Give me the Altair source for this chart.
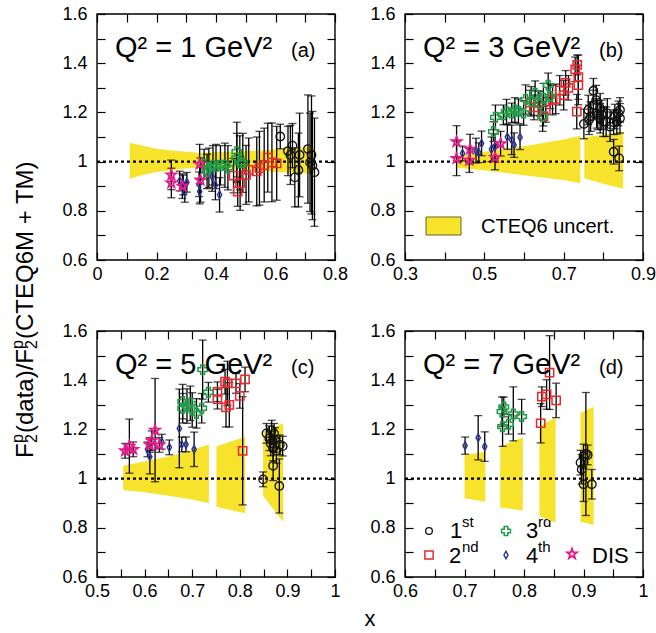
import altair as alt
import pandas as pd

FONT = "Liberation Sans"
FIG_W, FIG_H = 656, 633
Y_DOMAIN = [0.6, 1.6]
Y_TICKS = [0.6, 0.7, 0.8, 0.9, 1.0, 1.1, 1.2, 1.3, 1.4, 1.5, 1.6]

BAND_COLOR = "#f7e22c"
COL_1ST = "#111111"
COL_2ND = "#e8282c"
COL_3RD = "#1f9e4a"
COL_4TH = "#2a3596"
COL_DIS = "#e8198b"
DIAMOND = "M0,-1L0.55,0L0,1L-0.55,0Z"
STAR = ("M0,-1L0.235,-0.324L0.951,-0.309L0.38,0.124L0.588,0.809L0,0.4"
        "L-0.588,0.809L-0.38,0.124L-0.951,-0.309L-0.235,-0.324Z")

# ---------------- Q^2 = 1 GeV^2 ----------------
a_x_domain = [0.0, 0.8]
a_x_ticks = [0.0, 0.1, 0.2, 0.3, 0.4, 0.5, 0.6, 0.7, 0.8]
# CTEQ6 uncertainty band: (segment, x, low, high)
a_band = [(1, 0.11, 0.930, 1.077), (1, 0.15, 0.945, 1.065), (1, 0.20, 0.958, 1.052),
          (1, 0.25, 0.965, 1.045), (1, 0.30, 0.972, 1.040), (1, 0.35, 0.977, 1.035),
          (1, 0.40, 0.975, 1.038), (1, 0.45, 0.972, 1.040), (1, 0.50, 0.968, 1.042),
          (1, 0.55, 0.963, 1.045), (1, 0.60, 0.958, 1.050), (1, 0.65, 0.955, 1.055),
          (1, 0.70, 0.953, 1.058), (1, 0.73, 0.952, 1.060)]
# resonance regions and DIS: (x, ratio, error)
a_1st = [(0.616, 1.102, 0.05), (0.642, 1.043, 0.10), (0.657, 1.065, 0.09), (0.650, 1.027, 0.12),
         (0.665, 0.936, 0.12), (0.677, 0.966, 0.15), (0.681, 1.027, 0.17), (0.709, 1.051, 0.22),
         (0.721, 1.027, 0.24), (0.716, 0.997, 0.20), (0.724, 0.984, 0.22), (0.731, 0.957, 0.22)]
a_2nd = [(0.459, 0.943, 0.07), (0.473, 0.878, 0.06), (0.481, 0.912, 0.11), (0.501, 0.946, 0.12),
         (0.510, 0.966, 0.13), (0.537, 0.960, 0.14), (0.546, 0.973, 0.15), (0.562, 0.986, 0.15),
         (0.574, 1.016, 0.14), (0.588, 0.997, 0.16), (0.604, 0.993, 0.15)]
a_3rd = [(0.360, 0.990, 0.06), (0.370, 0.960, 0.07), (0.376, 0.975, 0.08), (0.390, 0.985, 0.08),
         (0.400, 0.980, 0.09), (0.415, 0.985, 0.08), (0.430, 0.985, 0.09), (0.440, 0.975, 0.09),
         (0.470, 1.040, 0.12), (0.470, 1.015, 0.10), (0.480, 0.995, 0.11), (0.490, 0.995, 0.12)]
a_4th = [(0.278, 0.921, 0.04), (0.290, 0.905, 0.04), (0.295, 0.875, 0.04), (0.302, 0.916, 0.04),
         (0.343, 0.908, 0.05), (0.345, 0.878, 0.05), (0.387, 0.939, 0.06), (0.398, 0.905, 0.06),
         (0.412, 0.865, 0.07)]
a_dis = [(0.250, 0.946, 0.06), (0.250, 0.913, 0.06), (0.287, 0.900, 0.05), (0.345, 0.990, 0.08),
         (0.348, 0.925, 0.09)]

# ---------------- Q^2 = 3 GeV^2 ----------------
b_x_domain = [0.3, 0.9]
b_x_ticks = [0.3, 0.4, 0.5, 0.6, 0.7, 0.8, 0.9]
b_band = [(1, 0.430, 0.975, 1.020), (1, 0.500, 0.965, 1.040), (1, 0.600, 0.945, 1.062),
          (1, 0.700, 0.925, 1.090), (1, 0.742, 0.912, 1.105),
          (2, 0.752, 0.932, 1.098), (2, 0.800, 0.910, 1.110), (2, 0.850, 0.890, 1.122)]
b_1st = [(0.751, 1.153, 0.06), (0.762, 1.210, 0.06), (0.764, 1.170, 0.06), (0.768, 1.183, 0.06),
         (0.775, 1.230, 0.06), (0.775, 1.288, 0.05), (0.782, 1.250, 0.06), (0.783, 1.196, 0.06),
         (0.786, 1.190, 0.06), (0.792, 1.217, 0.06), (0.792, 1.176, 0.06), (0.796, 1.190, 0.06),
         (0.800, 1.162, 0.06), (0.807, 1.162, 0.06), (0.810, 1.196, 0.06), (0.817, 1.142, 0.06),
         (0.826, 1.160, 0.05), (0.829, 1.183, 0.05), (0.834, 1.162, 0.05), (0.838, 1.196, 0.05),
         (0.842, 1.176, 0.06), (0.842, 1.210, 0.05), (0.826, 1.040, 0.05), (0.840, 1.013, 0.05)]
b_2nd = [(0.615, 1.240, 0.05), (0.625, 1.220, 0.05), (0.636, 1.238, 0.05), (0.649, 1.185, 0.04),
         (0.655, 1.210, 0.05), (0.672, 1.250, 0.06), (0.680, 1.255, 0.06), (0.690, 1.290, 0.06),
         (0.700, 1.270, 0.06), (0.705, 1.320, 0.05), (0.712, 1.300, 0.05), (0.729, 1.375, 0.05),
         (0.734, 1.393, 0.04), (0.737, 1.343, 0.09), (0.737, 1.311, 0.08), (0.733, 1.203, 0.07)]
b_3rd = [(0.523, 1.122, 0.04), (0.528, 1.180, 0.05), (0.548, 1.190, 0.04), (0.556, 1.203, 0.05),
         (0.569, 1.198, 0.04), (0.577, 1.210, 0.05), (0.586, 1.205, 0.05), (0.599, 1.198, 0.05),
         (0.604, 1.252, 0.06), (0.618, 1.245, 0.06), (0.628, 1.278, 0.05), (0.640, 1.235, 0.05),
         (0.647, 1.183, 0.06), (0.649, 1.258, 0.06), (0.661, 1.310, 0.05), (0.666, 1.265, 0.05)]
b_4th = [(0.445, 1.033, 0.03), (0.479, 1.045, 0.05), (0.486, 1.036, 0.04), (0.493, 1.074, 0.05),
         (0.518, 1.050, 0.05), (0.527, 1.062, 0.05), (0.558, 1.100, 0.05), (0.569, 1.088, 0.06),
         (0.575, 1.067, 0.05), (0.590, 1.099, 0.05)]
b_dis = [(0.430, 1.081, 0.065), (0.430, 1.013, 0.07), (0.464, 1.051, 0.06), (0.462, 1.006, 0.05),
         (0.527, 1.017, 0.05), (0.541, 1.073, 0.05)]

# ---------------- Q^2 = 5 GeV^2 ----------------
c_x_domain = [0.5, 1.0]
c_x_ticks = [0.5, 0.55, 0.6, 0.65, 0.7, 0.75, 0.8, 0.85, 0.9, 0.95, 1.0]
c_band = [(1, 0.555, 0.954, 1.052), (1, 0.600, 0.945, 1.070), (1, 0.650, 0.930, 1.090),
          (1, 0.700, 0.915, 1.115), (1, 0.735, 0.900, 1.140),
          (2, 0.751, 0.886, 1.130), (2, 0.780, 0.872, 1.150), (2, 0.811, 0.859, 1.170),
          (3, 0.849, 0.930, 1.190), (3, 0.891, 0.825, 1.225)]
c_1st = [(0.849, 0.997, 0.03), (0.856, 1.184, 0.04), (0.862, 1.164, 0.05), (0.867, 1.197, 0.04),
         (0.872, 1.184, 0.04), (0.865, 1.143, 0.05), (0.874, 1.157, 0.05), (0.870, 1.123, 0.05),
         (0.877, 1.113, 0.05), (0.884, 1.137, 0.04), (0.890, 1.132, 0.04), (0.870, 1.052, 0.06),
         (0.883, 0.970, 0.11)]
c_2nd = [(0.753, 1.353, 0.04), (0.753, 1.323, 0.04), (0.769, 1.394, 0.05), (0.774, 1.387, 0.09),
         (0.771, 1.290, 0.08), (0.778, 1.300, 0.09), (0.792, 1.387, 0.04), (0.800, 1.336, 0.05),
         (0.811, 1.403, 0.05), (0.806, 1.113, 0.22)]
c_3rd = [(0.680, 1.313, 0.07), (0.680, 1.286, 0.06), (0.689, 1.295, 0.07), (0.696, 1.306, 0.07),
         (0.700, 1.279, 0.07), (0.709, 1.265, 0.06), (0.720, 1.286, 0.06), (0.722, 1.443, 0.12),
         (0.734, 1.351, 0.04)]
c_4th = [(0.606, 1.119, 0.03), (0.611, 1.089, 0.07), (0.636, 1.150, 0.03), (0.652, 1.127, 0.03),
         (0.673, 1.204, 0.16), (0.678, 1.139, 0.03), (0.687, 1.139, 0.03), (0.704, 1.119, 0.07)]
c_dis = [(0.559, 1.113, 0.03), (0.568, 1.132, 0.11), (0.576, 1.119, 0.03), (0.611, 1.137, 0.03),
         (0.615, 1.154, 0.04), (0.622, 1.197, 0.21), (0.631, 1.137, 0.03)]

# ---------------- Q^2 = 7 GeV^2 ----------------
d_x_domain = [0.6, 1.0]
d_x_ticks = [0.6, 0.65, 0.7, 0.75, 0.8, 0.85, 0.9, 0.95, 1.0]
d_band = [(1, 0.700, 0.920, 1.096), (1, 0.735, 0.906, 1.109),
          (2, 0.760, 0.883, 1.130), (2, 0.798, 0.870, 1.168),
          (3, 0.826, 0.848, 1.211), (3, 0.853, 0.821, 1.249),
          (4, 0.895, 0.825, 1.268), (4, 0.917, 0.811, 1.292)]
d_1st = [(0.895, 1.065, 0.05), (0.900, 1.090, 0.05), (0.904, 1.100, 0.25), (0.907, 1.096, 0.04),
         (0.900, 0.977, 0.07), (0.914, 0.977, 0.06), (0.897, 1.038, 0.06)]
d_2nd = [(0.828, 1.225, 0.08), (0.830, 1.333, 0.04), (0.838, 1.342, 0.06), (0.843, 1.431, 0.15),
         (0.854, 1.318, 0.07)]
d_3rd = [(0.763, 1.272, 0.06), (0.766, 1.291, 0.04), (0.764, 1.211, 0.08), (0.774, 1.221, 0.04),
         (0.782, 1.263, 0.11), (0.796, 1.252, 0.07)]
d_4th = [(0.701, 1.134, 0.035), (0.723, 1.166, 0.09), (0.734, 1.130, 0.06)]

MARKERS = {
    "1st": dict(shape="circle", color=COL_1ST, size=72, strokeWidth=1.3),
    "2nd": dict(shape="square", color=COL_2ND, size=68, strokeWidth=1.5),
    "3rd": dict(shape="cross", color=COL_3RD, size=90, strokeWidth=1.5),
    "4th": dict(shape=DIAMOND, color=COL_4TH, size=62, strokeWidth=1.4),
    "DIS": dict(shape=STAR, color=COL_DIS, size=105, strokeWidth=1.8),
}


def frame(points):
    df = pd.DataFrame(points, columns=["x", "y", "err"])
    df["lo"] = df["y"] - df["err"]
    df["hi"] = df["y"] + df["err"]
    return df


def label(text, x, y, size, align="left", angle=0, baseline="alphabetic"):
    return alt.Chart(pd.DataFrame({"t": [text]})).mark_text(
        font=FONT, fontSize=size, align=align, baseline=baseline, angle=angle, color="black"
    ).encode(text="t:N", x=alt.value(x), y=alt.value(y))


def symbol(key, x, y, size):
    m = dict(MARKERS[key])
    m["size"] = size
    return alt.Chart(pd.DataFrame({"k": [key]})).mark_point(filled=False, opacity=1, **m).encode(
        x=alt.value(x), y=alt.value(y))


def tick_axis(orient, vals, offset):
    return alt.Axis(orient=orient, values=vals, labels=False, tickSize=8, tickWidth=1.2,
                    tickColor="black", offset=offset, domain=False, grid=False, title=None)


def panel(box, x_domain, x_ticks, x_label_test, band, series):
    """One frame; box = (left, top, right, bottom) in figure pixels."""
    left, top, right, bottom = box
    xs = alt.Scale(domain=x_domain, range=[left, right], nice=False, zero=False)
    ys = alt.Scale(domain=Y_DOMAIN, range=[bottom, top], nice=False, zero=False)
    x_axis = alt.Axis(orient="bottom", values=x_ticks, format="~g", offset=-(FIG_H - bottom),
                      labelExpr=f"{x_label_test} ? datum.label : ''", ticks=False, domain=False,
                      grid=False, labelPadding=5, labelFontSize=18, labelFont=FONT,
                      labelColor="black", labelFlush=False, labelOverlap=False, title=None)
    y_axis = alt.Axis(orient="left", values=Y_TICKS, format="~g", offset=-left,
                      labelExpr="round(datum.value*10) % 2 == 0 ? datum.label : ''", ticks=False,
                      domain=False, grid=False, labelPadding=10, labelFontSize=18, labelFont=FONT,
                      labelColor="black", labelOverlap=False, title=None)

    layers = []
    band_df = pd.DataFrame(band, columns=["seg", "x", "lo", "hi"])
    layers.append(alt.Chart(band_df).mark_area(color=BAND_COLOR, opacity=1).encode(
        x=alt.X("x:Q", scale=xs, axis=x_axis),
        y=alt.Y("lo:Q", scale=ys, axis=y_axis),
        y2="hi:Q", detail="seg:N"))

    edges = pd.DataFrame({"x0": [x_domain[0]], "x1": [x_domain[1]],
                          "y0": [Y_DOMAIN[0]], "y1": [Y_DOMAIN[1]], "r": [1.0]})
    layers.append(alt.Chart(edges).mark_rule(
        color="black", strokeWidth=2.4, strokeDash=[3, 3]).encode(
        x=alt.X("x0:Q", scale=xs, axis=None), x2="x1:Q",
        y=alt.Y("r:Q", scale=ys, axis=None)))

    pts = pd.concat([frame(p) for _, p in series], ignore_index=True)
    layers.append(alt.Chart(pts).mark_rule(color="black", strokeWidth=1.3).encode(
        x=alt.X("x:Q", scale=xs, axis=tick_axis("bottom", x_ticks, -(FIG_H - bottom) - 8)),
        y=alt.Y("lo:Q", scale=ys, axis=tick_axis("left", Y_TICKS, -left - 8)),
        y2="hi:Q"))
    layers.append(alt.Chart(pts).mark_tick(orient="horizontal", color="black", size=8,
                                           thickness=1.3).encode(
        x=alt.X("x:Q", scale=xs, axis=tick_axis("top", x_ticks, -top - 8)),
        y=alt.Y("lo:Q", scale=ys, axis=tick_axis("right", Y_TICKS, -(FIG_W - right) - 8))))
    layers.append(alt.Chart(pts).mark_tick(orient="horizontal", color="black", size=8,
                                           thickness=1.3).encode(
        x=alt.X("x:Q", scale=xs, axis=None),
        y=alt.Y("hi:Q", scale=ys, axis=None)))

    for key, p in series:
        layers.append(alt.Chart(frame(p)).mark_point(filled=False, opacity=1, **MARKERS[key]).encode(
            x=alt.X("x:Q", scale=xs, axis=None),
            y=alt.Y("y:Q", scale=ys, axis=None)))

    layers.append(alt.Chart(edges).mark_rect(fill="white", fillOpacity=0, stroke="black",
                                             strokeWidth=1.4).encode(
        x=alt.X("x0:Q", scale=xs, axis=None), x2="x1:Q",
        y=alt.Y("y0:Q", scale=ys, axis=None), y2="y1:Q"))
    return alt.layer(*layers).resolve_axis(x="independent", y="independent")


pa = panel((97, 14, 335, 260), a_x_domain, a_x_ticks, "round(datum.value*10) % 2 == 0", a_band,
           [("1st", a_1st), ("2nd", a_2nd), ("3rd", a_3rd), ("4th", a_4th), ("DIS", a_dis)])
pb = panel((405, 14, 643, 260), b_x_domain, b_x_ticks, "round(datum.value*10) % 2 == 1", b_band,
           [("1st", b_1st), ("2nd", b_2nd), ("3rd", b_3rd), ("4th", b_4th), ("DIS", b_dis)])
pc = panel((97, 331, 335, 577), c_x_domain, c_x_ticks, "round(datum.value*20) % 2 == 0", c_band,
           [("1st", c_1st), ("2nd", c_2nd), ("3rd", c_3rd), ("4th", c_4th), ("DIS", c_dis)])
pd_ = panel((405, 331, 643, 577), d_x_domain, d_x_ticks, "round(datum.value*20) % 2 == 0", d_band,
            [("1st", d_1st), ("2nd", d_2nd), ("3rd", d_3rd), ("4th", d_4th)])

titles = [
    label("Q² = 1 GeV²", 115, 57, 29), label("(a)", 291, 57, 20),
    label("Q² = 3 GeV²", 423, 57, 29), label("(b)", 599, 57, 20),
    label("Q² = 5 GeV²", 115, 374, 29), label("(c)", 291, 374, 20),
    label("Q² = 7 GeV²", 423, 374, 29), label("(d)", 599, 374, 20),
]

# rotated axis title with stacked sub/superscripts, and the x title
axis_titles = [
    label("F", 33, 458, 24, angle=270),
    label("p", 23, 443, 16, angle=270), label("2", 37, 443, 16, angle=270),
    label("(data)/F", 33, 433, 24, angle=270),
    label("p", 23, 349, 16, angle=270), label("2", 37, 349, 16, angle=270),
    label("(CTEQ6M + TM)", 33, 339, 24, angle=270),
    label("x", 370, 626, 22, align="center"),
]

band_key = [
    alt.Chart(pd.DataFrame({"k": ["CTEQ6 uncert."]})).mark_rect(
        fill=BAND_COLOR, stroke="#66661e", strokeWidth=1).encode(
        x=alt.value(426), x2=alt.value(461), y=alt.value(217), y2=alt.value(235)),
    label("CTEQ6 uncert.", 481, 233, 20),
]

series_key_text = [
    label("1", 450, 538, 22), label("st", 462, 527, 15),
    label("2", 449, 563, 22), label("nd", 462, 552, 15),
    label("3", 526, 538, 22), label("rd", 538, 527, 15),
    label("4", 526, 563, 22), label("th", 538, 552, 15),
    label("DIS", 592, 563, 22),
]
series_key_symbols = [
    symbol("1st", 429, 531, 45), symbol("2nd", 429, 555, 68), symbol("3rd", 506, 531, 80),
    symbol("4th", 506, 555, 55), symbol("DIS", 572, 554, 110),
]

chart = alt.layer(
    *series_key_text, pa, pb, pc, pd_, *titles, *axis_titles, *band_key, *series_key_symbols
).resolve_scale(x="independent", y="independent").resolve_axis(
    x="independent", y="independent"
).properties(
    width=FIG_W, height=FIG_H, autosize=alt.AutoSizeParams(type="none"), padding=0
).configure(font=FONT).configure_view(strokeWidth=0)

chart.save("out.html", embed_options={"renderer": "svg", "actions": False})
